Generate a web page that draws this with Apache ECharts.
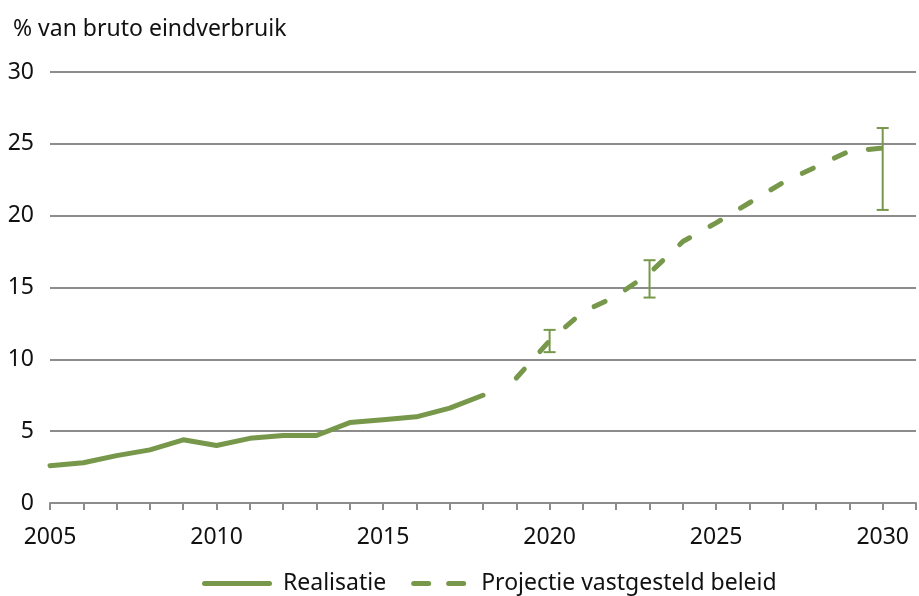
<!DOCTYPE html>
<html>
<head>
<meta charset="utf-8">
<script src="https://cdn.jsdelivr.net/npm/echarts@6/dist/echarts.min.js"></script>
<style>
  html, body { margin: 0; padding: 0; background: #fff; }
  #chart { width: 919px; height: 596px; }
</style>
</head>
<body>
<div id="chart"></div>
<script>
// jaren op de x-as (2031 alleen als laatste tick, zonder label)
var years = ["2005", "2006", "2007", "2008", "2009", "2010", "2011", "2012", "2013",
  "2014", "2015", "2016", "2017", "2018", "2019", "2020", "2021", "2022", "2023",
  "2024", "2025", "2026", "2027", "2028", "2029", "2030", "2031"];

var realisatieYears = ["2005", "2006", "2007", "2008", "2009", "2010", "2011",
  "2012", "2013", "2014", "2015", "2016", "2017", "2018"];
var realisatieValues = [2.6, 2.8, 3.3, 3.7, 4.4, 4.0, 4.5, 4.7, 4.7, 5.6, 5.8, 6.0, 6.6, 7.5];

var projectieYears = ["2019", "2020", "2021", "2022", "2023", "2024", "2025",
  "2026", "2027", "2028", "2029", "2030"];
var projectieValues = [8.7, 11.3, 13.3, 14.4, 16.0, 18.2, 19.5, 20.9, 22.3, 23.4, 24.5, 24.7];

// bandbreedte
var rangeYears = ["2020", "2023", "2030"];
var rangeLow = [10.5, 14.3, 20.4];
var rangeHigh = [12.05, 16.9, 26.1];

var green = "#77984a";
var font = "Noto Sans";

// legenda-iconen: doorgetrokken lijn en twee streepjes (zelfde breedte 70)
var solidIcon = "path://M2.5,0h65a2.5,2.5 0 0 1 0,5h-65a2.5,2.5 0 0 1 0,-5z";
var dashIcon = "path://M0,0L0,5Z M70,0L70,5Z" +
  "M13.5,0h15a2.5,2.5 0 0 1 0,5h-15a2.5,2.5 0 0 1 0,-5z" +
  "M48.5,0h15a2.5,2.5 0 0 1 0,5h-15a2.5,2.5 0 0 1 0,-5z";

var chart = echarts.init(document.getElementById("chart"));
chart.setOption({
  animation: false,
  title: {
    text: "% van bruto eindverbruik",
    left: 8,
    top: 13,
    textStyle: {
      fontFamily: font,
      fontSize: 23,
      fontWeight: "normal",
      color: "#111",
    },
  },
  legend: {
    left: 197,
    top: 567,
    itemGap: 14,
    itemWidth: 70,
    itemHeight: 5,
    textStyle: {
      fontFamily: font,
      fontSize: 23,
      color: "#111",
      padding: [0, 0, 0, 6],
    },
    data: [
      { name: "Realisatie", icon: solidIcon, itemStyle: { color: green } },
      { name: "Projectie vastgesteld beleid", icon: dashIcon, itemStyle: { color: green } },
    ],
  },
  grid: {
    left: 50,
    right: 3,
    top: 72,
    bottom: 93,
  },
  xAxis: {
    type: "category",
    boundaryGap: false,
    data: years,
    axisLine: {
      lineStyle: { color: "#8c8c8c", width: 2 },
    },
    axisTick: {
      interval: 0,
      length: 7,
      lineStyle: { color: "#8c8c8c", width: 2 },
    },
    axisLabel: {
      interval: 4,
      margin: 23,
      fontFamily: font,
      fontSize: 23,
      color: "#111",
    },
  },
  yAxis: {
    type: "value",
    min: 0,
    max: 30,
    interval: 5,
    axisLine: { show: false },
    axisTick: { show: false },
    axisLabel: {
      margin: 16,
      fontFamily: font,
      fontSize: 23,
      color: "#111",
    },
    splitLine: {
      lineStyle: { color: "#8c8c8c", width: 2 },
    },
  },
  series: [
    {
      name: "Realisatie",
      type: "line",
      symbol: "none",
      data: realisatieYears.map(function (y, i) { return [y, realisatieValues[i]]; }),
      lineStyle: { color: green, width: 5, cap: "round", join: "round" },
      itemStyle: { color: green },
    },
    {
      name: "Projectie vastgesteld beleid",
      type: "line",
      symbol: "none",
      data: projectieYears.map(function (y, i) { return [y, projectieValues[i]]; }),
      lineStyle: { color: green, width: 5, type: [12, 23.5], cap: "round", join: "round" },
      itemStyle: { color: green },
    },
    {
      name: "bandbreedte",
      type: "custom",
      data: rangeYears.map(function (y, i) { return [y, rangeLow[i], rangeHigh[i]]; }),
      renderItem: function (params, api) {
        var x = api.value(0);
        var lo = api.coord([x, api.value(1)]);
        var hi = api.coord([x, api.value(2)]);
        var half = 6;
        var style = { stroke: green, lineWidth: 2, fill: null };
        return {
          type: "group",
          children: [
            { type: "line", shape: { x1: lo[0], y1: lo[1], x2: hi[0], y2: hi[1] }, style: style },
            { type: "line", shape: { x1: lo[0] - half, y1: lo[1], x2: lo[0] + half, y2: lo[1] }, style: style },
            { type: "line", shape: { x1: hi[0] - half, y1: hi[1], x2: hi[0] + half, y2: hi[1] }, style: style },
          ],
        };
      },
      z: 3,
    },
  ],
});
</script>
</body>
</html>
